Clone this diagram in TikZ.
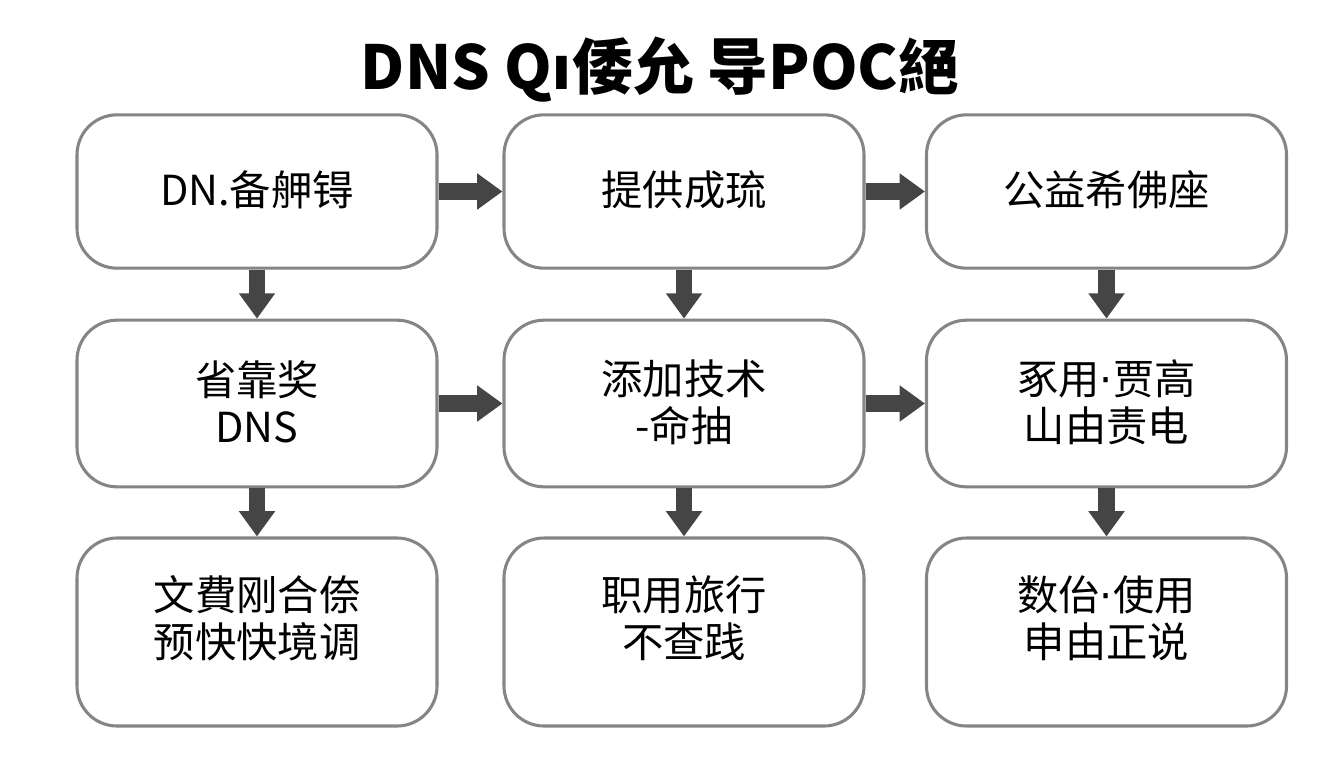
\documentclass[tikz,border=0pt]{standalone}
\usepackage{fontspec}
\setmainfont{Noto Sans CJK SC}
\newfontfamily\latfont{DejaVu Sans}
\usetikzlibrary{arrows.meta}
\definecolor{boxline}{HTML}{858585}
\definecolor{arrowc}{HTML}{454545}
\newcommand{\mdot}{{\latfont ·}}
\begin{document}
\begin{tikzpicture}[x=0.75pt,y=-0.75pt,
  box/.style={draw=boxline, line width=2.3pt, rounded corners=30pt, fill=white,
    minimum width=270pt, inner sep=0pt},
  txt/.style={align=center, font=\fontsize{31}{35}\selectfont, inner sep=0pt},
  arr/.style={draw=arrowc, line width=12.5pt,
    -{Triangle[width=26pt,length=19pt]}},
  ttl/.style={font=\fontsize{45.5}{49}\selectfont\bfseries, inner sep=0pt}]
\useasboundingbox[fill=white] (0,0) rectangle (1344,768);
\node[ttl] (title) at (660,70) {DNS Q{\latfont\bfseries ı}倭允 导POC絕};
% row 1
\node[box, minimum height=115pt] (b11) at (257,191.5) {};
\node[box, minimum height=115pt] (b12) at (684,191.5) {};
\node[box, minimum height=115pt] (b13) at (1106.5,191.5) {};
% row 2
\node[box, minimum height=125pt] (b21) at (257,403.5) {};
\node[box, minimum height=125pt] (b22) at (684,403.5) {};
\node[box, minimum height=125pt] (b23) at (1106.5,403.5) {};
% row 3
\node[box, minimum height=141pt] (b31) at (257,632) {};
\node[box, minimum height=141pt] (b32) at (684,632) {};
\node[box, minimum height=141pt] (b33) at (1106.5,632) {};
% texts
\node[txt] (t11) at (257,190) {DN.备舺锝};
\node[txt] (t12) at (684,190) {提供成琉};
\node[txt] (t13) at (1106.5,190) {公益希佛座};
\node[txt] (t21) at (257,402) {省靠奖\\DNS};
\node[txt] (t22) at (684,402) {添加技术\\-命抽};
\node[txt] (t23) at (1106.5,402) {豖用\mdot 贾高\\山由责电};
\node[txt] (t31) at (257,618) {文費刚合倷\\预快快境调};
\node[txt] (t32) at (684,618) {职用旅行\\不查践};
\node[txt] (t33) at (1106.5,618) {数佁\mdot 使用\\申由正说};
% arrows
\draw[arr] (b11) -- (b12);
\draw[arr] (b12) -- (b13);
\draw[arr] (b21) -- (b22);
\draw[arr] (b22) -- (b23);
\draw[arr] (b11) -- (b21);
\draw[arr] (b12) -- (b22);
\draw[arr] (b13) -- (b23);
\draw[arr] (b21) -- (b31);
\draw[arr] (b22) -- (b32);
\draw[arr] (b23) -- (b33);
\end{tikzpicture}
\end{document}
